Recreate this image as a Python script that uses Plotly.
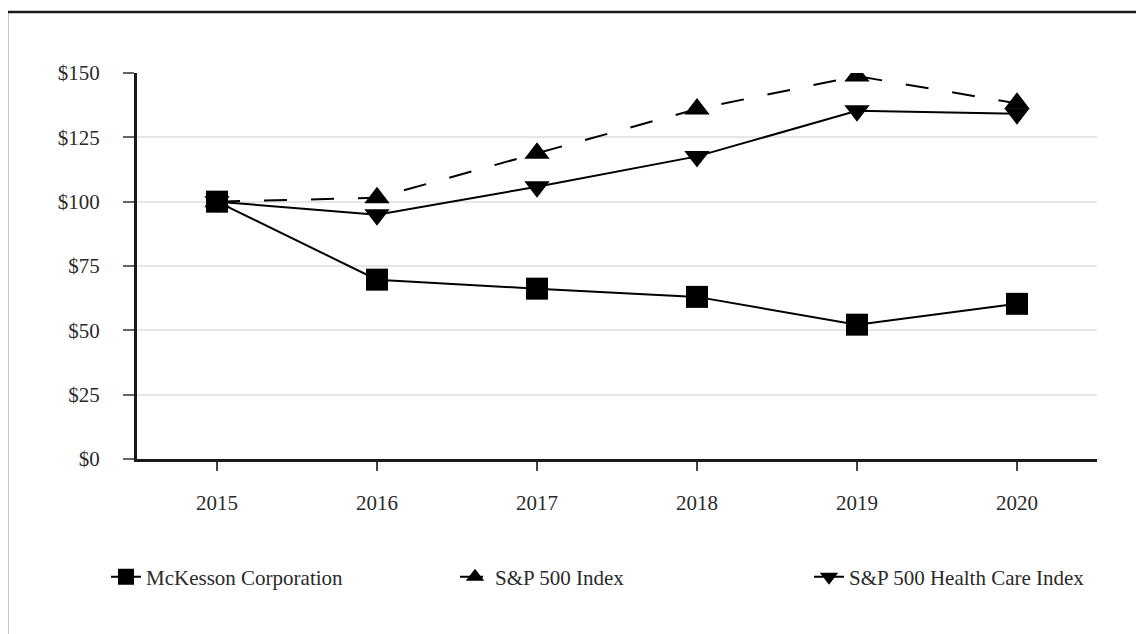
import plotly.graph_objects as go

years = ["2015", "2016", "2017", "2018", "2019", "2020"]
mckesson = [100, 69.7, 66.2, 63.0, 52.2, 60.3]
sp500 = [100, 101.5, 118.8, 136.0, 148.8, 138.2]
sp500_hc = [100, 94.9, 105.8, 117.6, 135.3, 134.2]
y_ticks = [0, 25, 50, 75, 100, 125, 150]
y_tick_labels = ["$0", "$25", "$50", "$75", "$100", "$125", "$150"]

FONT = "Liberation Serif"
OFF = 8  # page body offset
W, H = 1144 - OFF, 634 - OFF
L, T = 137 - OFF, 73 - OFF
PW, PH = 960, 386
R, B = W - L - PW, H - T - PH

def px_x(p):
    # p in reference (screen) pixels
    return (p - OFF - L) / PW

def px_y(p):
    return (T + PH - (p - OFF)) / PH

fig = go.Figure()
fig.add_trace(go.Scatter(
    x=years, y=mckesson, name="McKesson Corporation", mode="lines+markers",
    line=dict(color="#000000", width=2),
    marker=dict(symbol="square", size=22, color="#000000"),
    legend="legend",
))
fig.add_trace(go.Scatter(
    x=years, y=sp500, name="S&P 500 Index", mode="lines+markers",
    line=dict(color="#000000", width=2, dash="23px,24px"),
    marker=dict(symbol="triangle-up", size=22, color="#000000"),
    legend="legend2",
))
fig.add_trace(go.Scatter(
    x=years, y=sp500_hc, name="S&P 500 Health Care Index", mode="lines+markers",
    line=dict(color="#000000", width=2),
    marker=dict(symbol="triangle-down", size=22, color="#000000"),
    legend="legend3",
))

# outer frame (top and left visible)
fig.add_shape(type="rect", xref="paper", yref="paper",
              x0=px_x(7), x1=px_x(1170), y0=px_y(12), y1=px_y(660),
              line=dict(color="#1a1a1a", width=2.5), layer="below")

def legend_at(text_start):
    return dict(
        orientation="h", x=px_x(text_start - 40), xanchor="left",
        y=px_y(577), yanchor="middle",
        font=dict(family=FONT, size=21, color="#2a2a2a"),
        bgcolor="rgba(0,0,0,0)",
    )

fig.update_layout(
    width=W, height=H,
    margin=dict(l=L, r=R, t=T, b=B),
    paper_bgcolor="white", plot_bgcolor="white",
    font=dict(family=FONT, size=21, color="#2a2a2a"),
    showlegend=True,
    legend=legend_at(146),
    legend2=legend_at(495),
    legend3=legend_at(849),
    xaxis=dict(
        type="category", range=[-0.5, 5.5],
        showgrid=False, showline=True, linecolor="#1a1a1a", linewidth=3,
        ticks="outside", ticklen=9, tickwidth=1.5, tickcolor="#444444",
        ticklabelstandoff=14,
        tickfont=dict(family=FONT, size=21, color="#2a2a2a"),
        zeroline=False,
    ),
    yaxis=dict(
        range=[0, 150], tickvals=y_ticks, ticktext=y_tick_labels,
        showgrid=True, gridcolor="#e6e6e6", gridwidth=1.5,
        showline=True, linecolor="#1a1a1a", linewidth=3,
        ticks="outside", ticklen=11, tickwidth=1.5, tickcolor="#666666",
        ticklabelstandoff=19,
        tickfont=dict(family=FONT, size=21, color="#2a2a2a"),
        zeroline=False,
    ),
)

fig.write_html("out.html")
